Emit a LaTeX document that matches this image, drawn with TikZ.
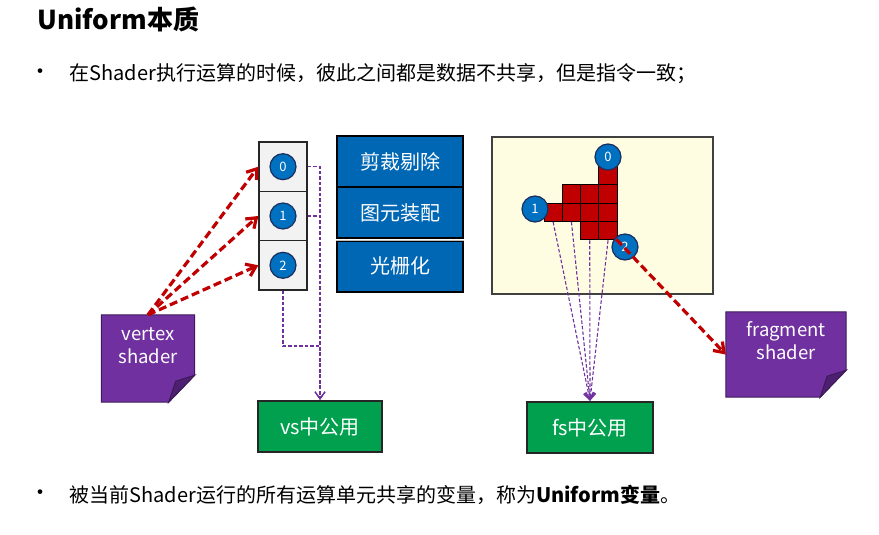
\documentclass[tikz,border=0pt]{standalone}
\usepackage{fontspec}
\setmainfont{Noto Sans CJK SC}
\usetikzlibrary{arrows.meta}
\definecolor{stageblue}{HTML}{0067B4}
\definecolor{dotblue}{HTML}{0070C0}
\definecolor{dotrim}{HTML}{1B2F5E}
\definecolor{sharegreen}{HTML}{00A04E}
\definecolor{notepurple}{HTML}{7030A0}
\definecolor{foldpurple}{HTML}{4E2072}
\definecolor{flowred}{HTML}{C00000}
\definecolor{screencream}{HTML}{FFFDE1}

\tikzset{
  slot/.style={draw=black!85, fill=black!5, line width=1.3pt, inner sep=0pt,
    minimum width=48pt, minimum height=49.3pt},
  dot/.style={circle, draw=dotrim, fill=dotblue, line width=1.2pt, inner sep=0pt,
    minimum size=26pt, text=white, font=\fontsize{13}{14}\selectfont},
  stage/.style={draw=black, fill=stageblue, line width=2pt, inner sep=0pt,
    minimum width=126pt, minimum height=51pt, text=white,
    font=\fontsize{20}{23}\selectfont},
  share/.style={draw=black!85, fill=sharegreen, line width=2.5pt, inner sep=0pt,
    minimum height=51pt, text=white, font=\fontsize{20}{23}\selectfont},
  note/.style={inner sep=0pt, minimum width=93pt, minimum height=87pt},
  notetext/.style={align=center, text=white, font=\fontsize{18.5}{23}\selectfont},
  cell/.style={draw=black, fill=flowred, line width=1pt, inner sep=0pt,
    minimum size=18.3pt},
  flow/.style={draw=flowred, line width=3.2pt, dash pattern=on 8pt off 4pt,
    -{Straight Barb[length=9pt,width=13pt]}},
  shareline/.style={draw=notepurple, line width=1.1pt, dash pattern=on 3.5pt off 2pt,
    -{Straight Barb[length=7pt,width=10pt]}},
  bodytext/.style={anchor=west, font=\fontsize{20}{24}\selectfont}
}

\begin{document}
\begin{tikzpicture}[x=1pt,y=-1pt]
  \useasboundingbox (0,0) rectangle (879,535);

  % heading and bullets
  \node[anchor=west, font=\bfseries\fontsize{26}{30}\selectfont] (title) at (34,20) {Uniform本质};
  \node[font=\fontsize{22}{24}\selectfont] (dot1) at (41,74) {•};
  \node[bodytext] (line1) at (66,74) {在Shader执行运算的时候，彼此之间都是数据不共享，但是指令一致；};
  \node[font=\fontsize{22}{24}\selectfont] (dot2) at (41,495) {•};
  \node[bodytext] (line2) at (66,495) {被当前Shader运行的所有运算单元共享的变量，称为{\bfseries Uniform变量}。};

  % vertex side
  \foreach \i/\y in {0/166.7, 1/216, 2/265.3} {
    \node[slot] (b\i) at (283,\y) {};
    \node[dot] (c\i) at (b\i) {\i};
  }

  \node[stage] (s1) at (400,161.5) {剪裁剔除};
  \node[stage] (s2) at (400,212.5) {图元装配};
  \node[stage] (s3) at (400,266) {光栅化};
  \draw[gray!50, line width=0.8pt] ([yshift=-1.2pt]s2.south west) -- ([yshift=-1.2pt]s2.south east);

  \node[share, minimum width=124pt] (vs) at (320,426.5) {vs中公用};
  \coordinate (vjoin) at (320,346);
  \draw[shareline] (b0.east) -| (vs.north);
  \draw[shareline] (b1.east) -| (vs.north);
  \draw[shareline] (b2.south) |- (vjoin) -- (vs.north);

  % fragment side
  \node[draw=black!75, fill=screencream, line width=1.2pt, minimum width=221pt,
    minimum height=157pt] (raster) at (602.5,215.5) {};
  \foreach \c/\r in {3/0, 1/1, 2/1, 3/1, 0/2, 1/2, 2/2, 3/2, 2/3, 3/3}
    \node[cell] (g\c\r) at ({544+18.3*(\c+0.5)},{166.6+18.3*(\r+0.5)}) {};
  \node[dot] (p0) at (608,157) {0};
  \node[dot] (p1) at (535,209) {1};
  \node[dot] (p2) at (625,247) {2};

  \node[share, minimum width=126pt] (fs) at (590,427.5) {fs中公用};
  \foreach \c/\r in {0/2, 1/2, 2/3, 3/3}
    \draw[shareline] (g\c\r.south) -- (fs.north);

  % shader notes
  \node[note] (vnote) at (148,358.5) {};
  \node[note, minimum width=120pt, minimum height=85pt] (fnote) at (786,354.5) {};
  \foreach \n in {vnote, fnote} {
    \filldraw[fill=notepurple, draw=notepurple!55!black, line width=1pt]
      (\n.north west) -- (\n.north east) -- ([yshift=27pt]\n.south east)
      -- ([xshift=-26pt]\n.south east) -- (\n.south west) -- cycle;
    \filldraw[fill=foldpurple, draw=notepurple!55!black, line width=1pt]
      ([yshift=27pt]\n.south east) -- ([xshift=-19pt,yshift=21pt]\n.south east)
      -- ([xshift=-26pt]\n.south east) -- cycle;
  }
  \node[notetext] (vlabel) at (148,346) {vertex\\shader};
  \node[notetext] (flabel) at (786,341) {fragment\\shader};

  \foreach \i in {0,1,2}
    \draw[flow] (vnote.north) -- (b\i.west);
  \draw[flow] (g33.center) -- (fnote.west);

\end{tikzpicture}
\end{document}
